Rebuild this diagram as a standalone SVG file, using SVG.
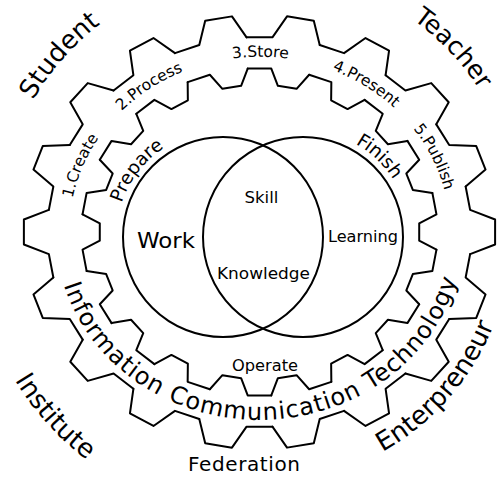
<svg xmlns="http://www.w3.org/2000/svg" width="502" height="477" viewBox="0 0 502 477">
<style>
.line{fill:none;stroke:#000;stroke-width:2;stroke-linejoin:round;stroke-linecap:round}
.t{font-family:"DejaVu Sans","Liberation Sans",sans-serif;fill:#000}
.corner{font-size:26px}
.band{font-size:15.5px}
.mid{font-size:18.5px}
.ict{font-size:24px;letter-spacing:1px}
.venn{font-size:16.5px}
</style>
<defs>
<path id="ot" class="line" vector-effect="non-scaling-stroke" d="M-12.93,-211.6 L12.93,-211.6 L27.53,-234.39 L54.29,-229.67 L60.21,-203.27"/>
<path id="it" class="line" vector-effect="non-scaling-stroke" d="M-11.8,-177.61 L11.8,-177.61 L18.39,-158.94 L37.08,-155.64 L49.66,-170.93"/>
<path id="pStudent" d="M2.7,180.2 A262,262 0 0 1 175.9,-16.3"/>
<path id="pTeacher" d="M333.9,-19.2 A262,262 0 0 1 514.3,170.8"/>
<path id="pInstitute" d="M-20.3,291.5 A286,286 0 0 0 171.1,504"/>
<path id="pEnter" d="M298.1,481 A252,252 0 0 0 511.4,237.3"/>
<path id="p1" d="M74.4,273.5 A190.5,175.3 0 0 1 153.8,86.2"/>
<path id="p2" d="M79.8,173.8 A190.5,175.3 0 0 1 257.5,56.7"/>
<path id="p3" d="M151.1,87.9 A190.5,175.3 0 0 1 369.6,88.9"/>
<path id="p4" d="M257.2,56.7 A190.5,175.3 0 0 1 437.7,170"/>
<path id="p5" d="M356.5,81.1 A190.5,175.3 0 0 1 446.7,264.2"/>
<path id="pPrepare" d="M116.1,241.5 A107,107 0 0 1 200,132.5"/>
<path id="pFinish" d="M309.5,130.2 A107,107 0 0 1 409.3,224.9"/>
<path id="pICT" d="M55.9,243.5 A204,188 0 0 0 463.5,233.6"/>
</defs>

<g id="outer-gear" transform="translate(259.5,232) scale(1,0.92)">
<use href="#ot"/><use href="#ot" transform="rotate(20)"/><use href="#ot" transform="rotate(40)"/><use href="#ot" transform="rotate(60)"/><use href="#ot" transform="rotate(80)"/><use href="#ot" transform="rotate(100)"/><use href="#ot" transform="rotate(120)"/><use href="#ot" transform="rotate(140)"/><use href="#ot" transform="rotate(160)"/><use href="#ot" transform="rotate(180)"/><use href="#ot" transform="rotate(200)"/><use href="#ot" transform="rotate(220)"/><use href="#ot" transform="rotate(240)"/><use href="#ot" transform="rotate(260)"/><use href="#ot" transform="rotate(280)"/><use href="#ot" transform="rotate(300)"/><use href="#ot" transform="rotate(320)"/><use href="#ot" transform="rotate(340)"/>
</g>
<g id="inner-gear" transform="translate(259.5,232) scale(1,0.92)">
<use href="#it"/><use href="#it" transform="rotate(20)"/><use href="#it" transform="rotate(40)"/><use href="#it" transform="rotate(60)"/><use href="#it" transform="rotate(80)"/><use href="#it" transform="rotate(100)"/><use href="#it" transform="rotate(120)"/><use href="#it" transform="rotate(140)"/><use href="#it" transform="rotate(160)"/><use href="#it" transform="rotate(180)"/><use href="#it" transform="rotate(200)"/><use href="#it" transform="rotate(220)"/><use href="#it" transform="rotate(240)"/><use href="#it" transform="rotate(260)"/><use href="#it" transform="rotate(280)"/><use href="#it" transform="rotate(300)"/><use href="#it" transform="rotate(320)"/><use href="#it" transform="rotate(340)"/>
</g>

<g id="circle-work"><circle class="line" cx="223" cy="237" r="100"/></g>
<g id="circle-learning"><circle class="line" cx="303" cy="237" r="100"/></g>

<g id="corner-labels">
<text class="t corner"><textPath href="#pStudent" startOffset="50%" text-anchor="middle">Student</textPath></text>
<text class="t" font-size="25"><textPath href="#pTeacher" startOffset="50%" text-anchor="middle">Teacher</textPath></text>
<text class="t corner"><textPath href="#pInstitute" startOffset="50%" text-anchor="middle">Institute</textPath></text>
<text class="t corner"><textPath href="#pEnter" startOffset="50%" text-anchor="middle">Enterpreneur</textPath></text>
<text class="t" x="244" y="471" font-size="20" text-anchor="middle" textLength="112" lengthAdjust="spacing">Federation</text>
</g>

<g id="steps">
<text class="t band"><textPath href="#p1" startOffset="50%" text-anchor="middle">1.Create</textPath></text>
<text class="t band"><textPath href="#p2" startOffset="50%" text-anchor="middle">2.Process</textPath></text>
<text class="t band"><textPath href="#p3" startOffset="50%" text-anchor="middle">3.Store</textPath></text>
<text class="t band"><textPath href="#p4" startOffset="50%" text-anchor="middle">4.Present</textPath></text>
<text class="t band"><textPath href="#p5" startOffset="50%" text-anchor="middle">5.Publish</textPath></text>
</g>

<g id="ict">
<text class="t ict"><textPath href="#pICT" startOffset="42.3">Information</textPath></text>
<text class="t ict"><textPath href="#pICT" startOffset="201.3">Communication</textPath></text>
<text class="t ict"><textPath href="#pICT" startOffset="412.1">Technology</textPath></text>
</g>

<g id="phases">
<text class="t mid"><textPath href="#pPrepare" startOffset="50%" text-anchor="middle">Prepare</textPath></text>
<text class="t mid"><textPath href="#pFinish" startOffset="50%" text-anchor="middle">Finish</textPath></text>
<text class="t venn" x="265" y="371" text-anchor="middle" textLength="66" lengthAdjust="spacingAndGlyphs">Operate</text>
</g>

<g id="venn-labels">
<text class="t" x="166" y="248" font-size="21" text-anchor="middle" textLength="58" lengthAdjust="spacingAndGlyphs">Work</text>
<text class="t venn" x="261.5" y="203" text-anchor="middle">Skill</text>
<text class="t venn" x="363" y="241.5" text-anchor="middle" textLength="70" lengthAdjust="spacingAndGlyphs">Learning</text>
<text class="t venn" x="263.5" y="279" text-anchor="middle" textLength="93" lengthAdjust="spacingAndGlyphs">Knowledge</text>
</g>
</svg>
